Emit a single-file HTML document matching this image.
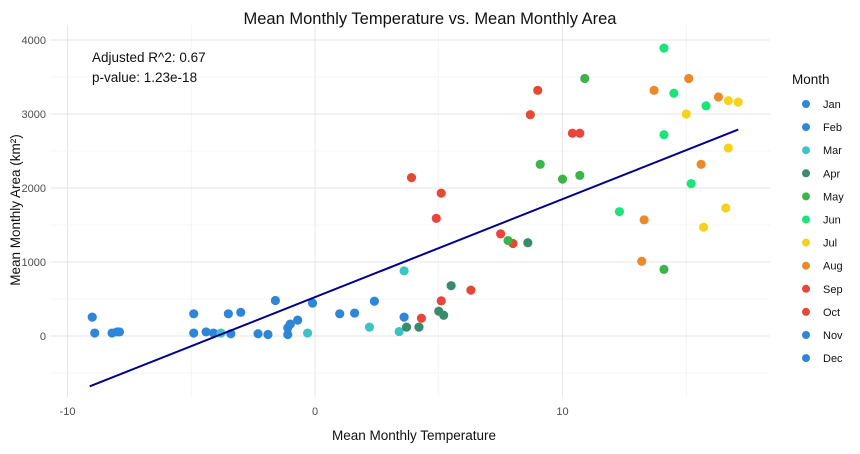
<!DOCTYPE html>
<html><head><meta charset="utf-8"><style>
body{margin:0;background:#fff;font-family:"Liberation Sans",sans-serif}
svg text{font-family:"Liberation Sans",sans-serif}
</style></head><body>
<svg id="c" width="860" height="449"></svg>
<script>
const months=["Jan","Feb","Mar","Apr","May","Jun","Jul","Aug","Sep","Oct","Nov","Dec"];
const monthColors=["#2f86d6","#2f86d6","#3cc3c3","#3a8a6e","#3cb44b","#1de47a","#f5d21f","#ea8a2a","#e8453c","#e34a33","#2f86d6","#2f86d6"];
const xTicks=[-10,0,10];
const yTicks=[0,1000,2000,3000,4000];
const pointMonth=[0,0,0,0,0,0,0,0,0,0,0,0,1,1,1,1,1,1,1,1,1,1,1,1,
 2,2,2,2,2, 3,3,3,3,3,3, 8,8,9,9,9,8,8,9,9,8,8,9,
 4,4,4,4,4,4, 5,5,5,5,5,5, 7,7,7,7,7,7, 6,6,6,6,6,6];
const pointTemp=[-9.0,-8.9,-8.2,-8.0,-7.9,-4.9,-4.9,-4.4,-4.1,-3.4,-3.5,-3.0,-2.3,-1.9,-1.6,-1.1,-1.1,-1.0,-0.7,-0.1,1.0,1.6,2.4,3.6,
 -3.8,-0.3,2.2,3.4,3.6, 3.7,4.2,5.0,5.2,5.5,8.6, 4.3,5.1,6.3,3.9,5.1,4.9,7.5,8.0,9.0,10.4,10.7,8.7,
 7.8,9.1,10.0,10.9,10.7,14.1, 14.1,14.5,14.1,15.8,15.2,12.3, 15.1,13.7,16.3,15.6,13.3,13.2, 15.0,16.7,17.1,16.7,16.6,15.7];
const pointArea=[255,40,40,55,55,300,40,55,40,30,300,320,30,20,480,20,110,160,215,445,300,310,470,255,
 40,40,120,60,880, 120,120,335,280,680,1260, 240,475,620,2140,1930,1590,1380,1250,3320,2740,2740,2990,
 1290,2320,2120,3480,2170,900, 3890,3280,2720,3110,2060,1680, 3480,3320,3230,2320,1570,1010, 3000,3180,3160,2540,1730,1470];
const lineX=[-9.1,17.1];
const lineY=[-680,2790];
const NS="http://www.w3.org/2000/svg";
const svg=document.getElementById('c');
function X(t){return 315+t*24.75;}
function Y(a){return 336-a*0.074;}
function mk(tag,attrs,parent){const e=document.createElementNS(NS,tag);for(const k in attrs)e.setAttribute(k,attrs[k]);(parent||svg).appendChild(e);return e;}
const grid=mk('g',{});


[-10,-5,0,5,10,15].forEach(v=>{const l=mk('line',{x1:X(v),x2:X(v),y1:25,y2:397,stroke:v%10===0?'#e6e6e6':'#f0f0f0','stroke-width':v%10===0?1:0.8},grid);

});
[-500,0,500,1000,1500,2000,2500,3000,3500,4000].forEach(v=>{const l=mk('line',{x1:50,x2:770,y1:Y(v),y2:Y(v),stroke:v%1000===0?'#e6e6e6':'#f0f0f0','stroke-width':v%1000===0?1:0.8},grid);

});
xTicks.forEach(v=>{const t=mk('text',{x:X(v),y:415,'text-anchor':'middle','font-size':11,fill:'#4d4d4d'});t.textContent=v;

});
yTicks.forEach(v=>{const t=mk('text',{x:46,y:Y(v)+4,'text-anchor':'end','font-size':11,fill:'#4d4d4d'});t.textContent=v;

});
pointTemp.forEach((t,i)=>{const c=mk('circle',{cx:X(t),cy:Y(pointArea[i]),r:4.6,fill:monthColors[pointMonth[i]]});

});
const ln=mk('line',{x1:X(lineX[0]),y1:Y(lineY[0]),x2:X(lineX[1]),y2:Y(lineY[1]),stroke:'#00008b','stroke-width':2});


function txt(s,a,name){const t=mk('text',a);t.textContent=s;

return t;}
txt('Mean Monthly Temperature vs. Mean Monthly Area',{x:430,y:24,'text-anchor':'middle','font-size':16.5,fill:'#111'},'chart-title');
txt('Adjusted R^2: 0.67',{x:92,y:62,'font-size':13.5,fill:'#111'},'r-squared-annotation');
txt('p-value: 1.23e-18',{x:92,y:82,'font-size':13.5,fill:'#111'},'p-value-annotation');
txt('Mean Monthly Temperature',{x:414,y:440,'text-anchor':'middle','font-size':13.5,fill:'#111'},'x-axis-title');
txt('Mean Monthly Area (km²)',{x:0,y:0,'text-anchor':'middle','font-size':13.5,fill:'#111',transform:'translate(20,210) rotate(-90)'},'y-axis-title');
txt('Month',{x:792,y:84,'font-size':13.5,fill:'#111'},'legend-title');
months.forEach((m,i)=>{const y=104+i*23.1;
const c=mk('circle',{cx:806,cy:y,r:4,fill:monthColors[i]});


txt(m,{x:823,y:y+4,'font-size':11,fill:'#111'},'legend-entry');});
</script>
</body></html>
